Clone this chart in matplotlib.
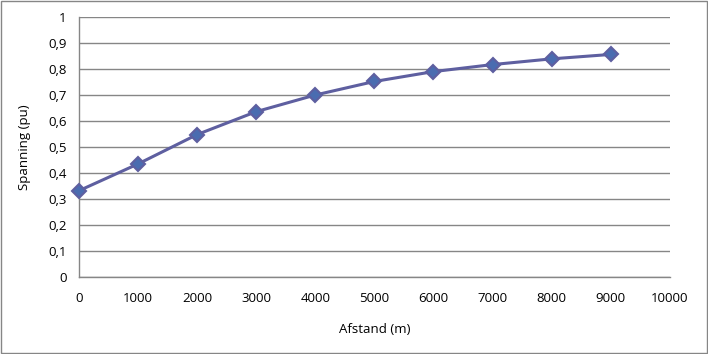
import numpy as np
import matplotlib.pyplot as plt
from matplotlib.patches import Rectangle

# Spanning vs afstand
afstand = [0, 1000, 2000, 3000, 4000, 5000, 6000, 7000, 8000, 9000]
spanning = [0.332, 0.435, 0.548, 0.636, 0.700, 0.752, 0.790, 0.817, 0.839, 0.856]

y_ticks = [0, 0.1, 0.2, 0.3, 0.4, 0.5, 0.6, 0.7, 0.8, 0.9, 1.0]
y_labels = ['0', '0,1', '0,2', '0,3', '0,4', '0,5', '0,6', '0,7', '0,8', '0,9', '1']
x_ticks = [0, 1000, 2000, 3000, 4000, 5000, 6000, 7000, 8000, 9000, 10000]

plt.rcParams['font.family'] = ['Open Sans', 'DejaVu Sans']
plt.rcParams['font.size'] = 9.5

fig = plt.figure(figsize=(7.08, 3.54), dpi=100)
ax = fig.add_axes([0.1116, 0.2175, 0.8344, 0.7345])

ax.plot(afstand, spanning, color='#5E5FA0', lw=2.2, marker='D', ms=7,
        markerfacecolor='#4A6CB0', markeredgecolor='#5E5FA0', markeredgewidth=1.5,
        zorder=3, clip_on=False)

ax.set_xlim(0, 10000)
ax.set_ylim(0, 1)
ax.set_xticks(x_ticks)
ax.set_yticks(y_ticks)
ax.set_yticklabels(y_labels)
ax.tick_params(axis='x', length=0, pad=11, colors='black')
ax.tick_params(axis='y', length=0, pad=9, colors='black')
ax.grid(axis='y', color='#868686', lw=1)
ax.set_axisbelow(True)
for s in ['top', 'right']:
    ax.spines[s].set_visible(False)
for s in ['left', 'bottom']:
    ax.spines[s].set_color('#868686')
    ax.spines[s].set_linewidth(1)

ax.set_xlabel('Afstand (m)', labelpad=13)
ax.set_ylabel('Spanning (pu)', labelpad=12)

# outer frame
fig.patches.append(Rectangle((0.001, 0.002), 0.997, 0.995, transform=fig.transFigure,
                             fill=False, edgecolor='#868686', lw=1))

fig.savefig('out.png', dpi=100)
